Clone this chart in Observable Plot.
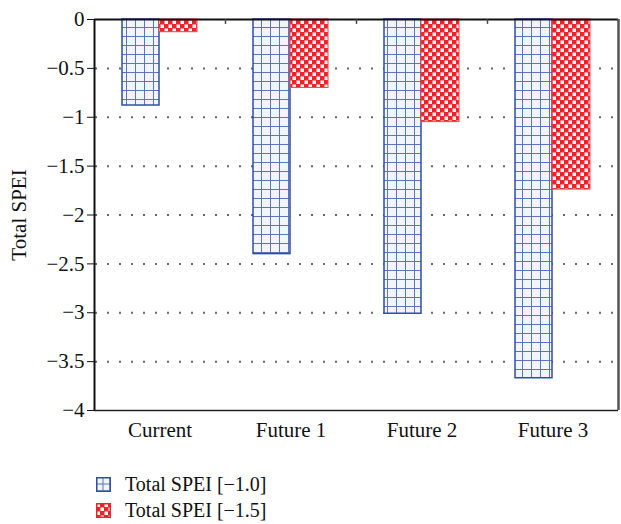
<!DOCTYPE html>
<html><head><meta charset="utf-8">
<script src="https://cdn.jsdelivr.net/npm/d3@7"></script>
<script src="https://cdn.jsdelivr.net/npm/@observablehq/plot@0.6"></script>
<style>
body{margin:0;background:#fff;font-family:"Liberation Serif","DejaVu Serif",serif;}
#legend{margin-left:96px;margin-top:26px;font-size:20px;color:#111;}
.item{display:flex;align-items:center;height:26px;}
.item svg{margin-right:14px;}
</style>
</head><body>
<svg width="0" height="0" style="position:absolute">
  <defs>
    <pattern id="blueGrid" patternUnits="userSpaceOnUse" width="9" height="9">
      <rect width="9" height="9" fill="#f1f4fb"/>
      <path d="M0.5,0V9M0,0.5H9" stroke="#5a76bd" stroke-width="1"/>
    </pattern>
    <pattern id="redCheck" patternUnits="userSpaceOnUse" width="8" height="8">
      <rect width="8" height="8" fill="#ee2227"/>
      <rect x="0.5" y="0.5" width="3.5" height="3.5" fill="#fff"/>
      <rect x="4.5" y="4.5" width="3.5" height="3.5" fill="#fff"/>
    </pattern>
    <pattern id="blueGridL" patternUnits="userSpaceOnUse" width="7" height="7" x="-0.5" y="-0.5">
      <rect width="7" height="7" fill="#f1f4fb"/>
      <path d="M0.5,0V7M0,0.5H7" stroke="#5a76bd" stroke-width="1"/>
    </pattern>
  </defs>
</svg>
<div id="chart"></div>
<div id="legend"></div>
<script>
const categories = ["Current", "Future 1", "Future 2", "Future 3"];
const spei10 = [-0.88, -2.40, -3.01, -3.67];
const spei15 = [-0.13, -0.70, -1.05, -1.74];
const yTicks = [0, -0.5, -1, -1.5, -2, -2.5, -3, -3.5, -4];
const gridTicks = [-0.5, -1, -1.5, -2, -2.5, -3, -3.5];
const seriesNames = ["Total SPEI [\u22121.0]", "Total SPEI [\u22121.5]"];
const yTitle = "Total SPEI";

const d10 = categories.map((c, i) => ({cat: c, v: spei10[i]}));
const d15 = categories.map((c, i) => ({cat: c, v: spei15[i]}));
const fmt = d => d === 0 ? "0" : "\u2212" + Math.abs(d);

const chart = Plot.plot({
  width: 621,
  height: 445,
  marginTop: 19,
  marginBottom: 35,
  marginLeft: 94,
  marginRight: 3,
  style: {fontFamily: '"Liberation Serif","DejaVu Serif",serif', fontSize: "21px", color: "#111"},
  x: {domain: categories, padding: 0, label: null},
  y: {domain: [-4, 0], label: null},
  marks: [
    Plot.ruleY(gridTicks, {stroke: "#666", strokeWidth: 2, strokeDasharray: "2,10", strokeDashoffset: -1}),
    Plot.barY(d10, {x: "cat", y: "v", fill: "url(#blueGrid)", stroke: "#2f4fa3", strokeWidth: 1.5, insetLeft: 28, insetRight: 66}),
    Plot.barY(d15, {x: "cat", y: "v", fill: "url(#redCheck)", stroke: "#ee4449", strokeWidth: 1, insetLeft: 65, insetRight: 28}),
    Plot.ruleY([0], {stroke: "#111", strokeWidth: 2}),
    Plot.ruleY([-4], {stroke: "#222", strokeWidth: 1.5}),
    Plot.ruleX(categories.slice(1), {dx: -65.5, y1: 0, y2: -0.05, stroke: "#444", strokeWidth: 1.5}),
    Plot.ruleX([categories[categories.length - 1]], {dx: 65.5, stroke: "#555", strokeWidth: 2.5}),
    Plot.ruleX([categories[0]], {dx: -65.5, stroke: "#111", strokeWidth: 2}),
    Plot.axisY({ticks: yTicks, tickSize: 7, tickPadding: 3, label: null, fontSize: 21, tickFormat: fmt}),
    Plot.axisX({tickSize: 0, tickPadding: 12, label: null, fontSize: 21}),
    Plot.text([yTitle], {frameAnchor: "left", dx: -75, rotate: -90, textAnchor: "middle", fontSize: 21})
  ]
});
document.getElementById("chart").appendChild(chart);

const pats = ["url(#blueGridL)", "url(#redCheck)"];
const strokes = ["#2f4fa3", "#ee2227"];
const lg = document.getElementById("legend");
seriesNames.forEach((n, i) => {
  const div = document.createElement("div");
  div.className = "item";
  div.innerHTML = `<svg width="15" height="15"><rect x="0.75" y="0.75" width="13.5" height="13.5" fill="${pats[i]}" stroke="${strokes[i]}" stroke-width="1.5"/></svg><span>${n}</span>`;
  lg.appendChild(div);
});
</script>
</body></html>
